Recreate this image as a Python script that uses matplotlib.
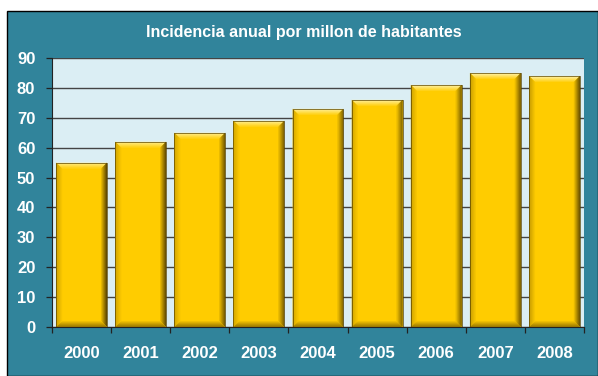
import numpy as np
import matplotlib.pyplot as plt
from matplotlib.colors import to_rgb
from matplotlib.patches import Polygon, Rectangle

# incidencia anual por millon de habitantes
years = ["2000", "2001", "2002", "2003", "2004", "2005", "2006", "2007", "2008"]
values = [55, 62, 65, 69, 73, 76, 81, 85, 84]
yticks = [0, 10, 20, 30, 40, 50, 60, 70, 80, 90]

teal = "#31849B"
panel = "#DBEEF4"
gold = "#FFCC00"

plt.rcParams["font.family"] = ["Liberation Sans", "DejaVu Sans"]

fig = plt.figure(figsize=(5.98, 3.76), dpi=100)
fig.patch.set_facecolor("white")
fig.patches.append(Rectangle((7 / 598, 0), 1 - 7 / 598, 1 - 11 / 376, transform=fig.transFigure,
                             facecolor=teal, edgecolor="black", linewidth=1, zorder=-5))

ax = fig.add_axes([52 / 598, 1 - 327 / 376, 532 / 598, 269 / 376])
ax.set_zorder(2)
ax.set_facecolor(panel)
ax.set_xlim(-0.5, len(years) - 0.5)
ax.set_ylim(0, 90)

x = np.arange(len(years))
width = 0.86
bars = ax.bar(x, values, width=width, color=gold, edgecolor="none", zorder=3)


def mix(c1, c2, t):
    a, b = np.array(to_rgb(c1)), np.array(to_rgb(c2))
    return tuple(a + (b - a) * t)


# bevel edges as stepped rings, sized in pixels
fig.canvas.draw()
inv = ax.transData.inverted()
p0 = inv.transform((0, 0))
p1 = inv.transform((1, 1))
px, py = p1[0] - p0[0], p1[1] - p0[1]
steps = 6
edge_cols = {"top": "#FFF5B0", "left": "#C99E00", "right": "#5E4800", "bottom": "#9C7A00"}
for b in bars:
    X0, Y0 = b.get_x(), b.get_y()
    X1, Y1 = X0 + b.get_width(), Y0 + b.get_height()
    for i in range(steps):
        t = i / steps
        x0, y0, x1, y1 = X0 + i * px, Y0 + i * py, X1 - i * px, Y1 - i * py
        xa, ya, xb, yb = x0 + px, y0 + py, x1 - px, y1 - py
        faces = [
            ([(x0, y1), (x1, y1), (xb, yb), (xa, yb)], "top"),
            ([(x0, y0), (xa, ya), (xa, yb), (x0, y1)], "left"),
            ([(x1, y0), (x1, y1), (xb, yb), (xb, ya)], "right"),
            ([(x0, y0), (x1, y0), (xb, ya), (xa, ya)], "bottom"),
        ]
        for pts, side in faces:
            ax.add_patch(Polygon(pts, closed=True, facecolor=mix(edge_cols[side], gold, t),
                                 edgecolor="none", zorder=4))
    ax.add_patch(Rectangle((X0, Y0), X1 - X0, Y1 - Y0, facecolor="none",
                           edgecolor="#5a4400", linewidth=0.5, zorder=5))

ax.set_yticks(yticks)
ax.yaxis.grid(True, color="#444444", linewidth=1.0, zorder=1)
ax.set_axisbelow(True)
ax.set_xticks(x)
ax.set_xticklabels(years)
ax.set_xticks(np.arange(len(years) + 1) - 0.5, minor=True)

for s in ["top", "right"]:
    ax.spines[s].set_visible(False)
ax.spines["left"].set_color("#222222")
ax.spines["bottom"].set_color("#222222")

ax.tick_params(axis="y", length=4, width=0.9, color="#222222", pad=8,
               labelcolor="white", labelsize=12)
ax.tick_params(axis="x", which="major", length=0, pad=14, labelcolor="white", labelsize=12)
ax.tick_params(axis="x", which="minor", length=4, width=0.9, color="#222222")
for lbl in ax.get_xticklabels() + ax.get_yticklabels():
    lbl.set_fontweight("bold")

fig.text(304 / 598, 1 - 32 / 376, "Incidencia anual por millon de habitantes",
         ha="center", va="center", color="white", fontsize=11.5, fontweight="bold")

fig.savefig("out.png", dpi=100)
